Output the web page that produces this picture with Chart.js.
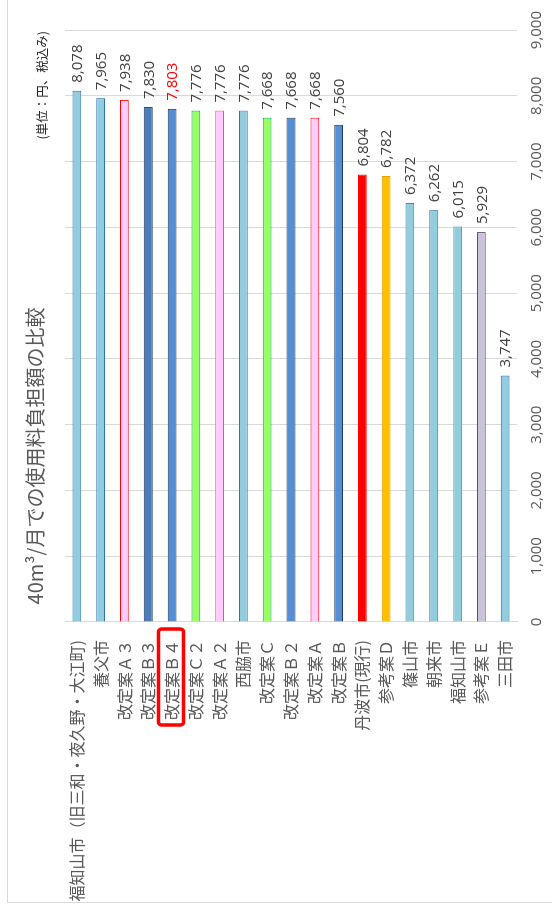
<!DOCTYPE html>
<html>
<head>
<meta charset="utf-8">
<script src="https://cdn.jsdelivr.net/npm/chart.js@4"></script>
<style>
  html, body { margin: 0; padding: 0; width: 552px; height: 912px; overflow: hidden; background: #fff; }
  /* chart is laid out landscape, then turned a quarter left */
  #wrap { position: absolute; left: 0; top: 912px; width: 912px; height: 552px;
          transform-origin: 0 0; transform: rotate(-90deg); }
</style>
</head>
<body>
<div id="wrap"><canvas id="cost" width="912" height="552"></canvas></div>
<script>
const categories = [
  "福知山市（旧三和・夜久野・大江町)", "養父市", "改定案Ａ３", "改定案Ｂ３", "改定案Ｂ４",
  "改定案Ｃ２", "改定案Ａ２", "西脇市", "改定案Ｃ", "改定案Ｂ２", "改定案Ａ", "改定案Ｂ",
  "丹波市(現行)", "参考案Ｄ", "篠山市", "朝来市", "福知山市", "参考案Ｅ", "三田市"
];
const charges = [8078, 7965, 7938, 7830, 7803, 7776, 7776, 7776, 7668, 7668, 7668, 7560,
                 6804, 6782, 6372, 6262, 6015, 5929, 3747];
const valueTicks = [0, 1000, 2000, 3000, 4000, 5000, 6000, 7000, 8000, 9000];
const highlighted = 4; // 改定案B4

const fills = [
  "#93CDDD", "#93CDDD", "#FFCCFF", "#4A7EBB", "#558ED5", "#99FF66", "#FFCCFF", "#93CDDD",
  "#99FF66", "#558ED5", "#FFCCFF", "#558ED5", "#FF0000", "#FFC000", "#93CDDD", "#93CDDD",
  "#93CDDD", "#CCC1DA", "#93CDDD"
];
const borders = [
  "#2E75B6", "#2E75B6", "#FF0000", "#1F3864", "#1F3864", "#00B050", "#FF5050", "#2E75B6",
  "#00B050", "#1F3864", "#FF0000", "#1F3864", "#FF0000", "#E69A00", "#31859C", "#2E75B6",
  "#4BACC6", "#604A7B", "#0070C0"
];

const cjk = '"Noto Sans CJK JP", "Noto Sans", sans-serif';
const num = '"Open Sans", "Liberation Sans", sans-serif';

const decor = {
  id: "decor",
  beforeDraw(chart) {
    const ctx = chart.ctx;
    ctx.save();
    ctx.fillStyle = "#fff";
    ctx.fillRect(0, 0, chart.width, chart.height);
    ctx.strokeStyle = "#D9D9D9";
    ctx.lineWidth = 1;
    ctx.strokeRect(9.5, 7.5, chart.width + 20, chart.height + 20);
    ctx.restore();
  },
  afterDraw(chart) {
    const ctx = chart.ctx;
    const area = chart.chartArea;
    ctx.save();
    // title
    ctx.fillStyle = "#595959";
    ctx.font = "20px " + cjk;
    ctx.textAlign = "center";
    ctx.textBaseline = "middle";
    ctx.fillText("40m³/月での使用料負担額の比較", chart.width / 2, 35);
    // unit note
    ctx.fillStyle = "#262626";
    ctx.font = "12.5px " + cjk;
    ctx.textAlign = "right";
    ctx.fillText("(単位：円、税込み)", area.right - 1, 42);
    // value labels
    const meta = chart.getDatasetMeta(0);
    ctx.font = "15px " + num;
    ctx.textAlign = "left";
    meta.data.forEach((bar, i) => {
      ctx.fillStyle = i === highlighted ? "#FF0000" : "#404040";
      ctx.fillText(charges[i].toLocaleString("en-US"), bar.x + 8, bar.y + 1);
    });
    // red box round the highlighted category
    const yc = chart.scales.y.getPixelForValue(highlighted);
    ctx.strokeStyle = "#FF0000";
    ctx.lineWidth = 3.5;
    ctx.beginPath();
    ctx.roundRect(area.left - 103, yc - 13.5, 96, 25, 3);
    ctx.stroke();
    ctx.restore();
  }
};

new Chart(document.getElementById("cost"), {
  type: "bar",
  data: {
    labels: categories,
    datasets: [{
      data: charges,
      backgroundColor: fills,
      borderColor: borders,
      borderWidth: 1,
      barPercentage: 0.37,
      categoryPercentage: 1
    }]
  },
  options: {
    indexAxis: "y",
    responsive: false,
    animation: false,
    layout: { padding: { top: 65, right: 29, left: 0, bottom: 0 } },
    plugins: { legend: { display: false }, tooltip: { enabled: false } },
    scales: {
      x: {
        min: 0,
        max: 9000,
        afterBuildTicks: s => { s.ticks = valueTicks.map(v => ({ value: v })); },
        afterFit: s => { s.height = 35; },
        grid: { color: "#D9D9D9", lineWidth: 1, drawTicks: false },
        border: { display: false },
        ticks: {
          padding: 11,
          color: "#595959",
          font: { family: num, size: 15 },
          callback: v => v.toLocaleString("en-US")
        }
      },
      y: {
        afterFit: s => { s.width = 290; },
        grid: { display: false, drawTicks: false },
        border: { display: true, color: "#D9D9D9" },
        ticks: {
          padding: 18,
          autoSkip: false,
          color: "#595959",
          font: { family: cjk, size: 16 }
        }
      }
    }
  },
  plugins: [decor]
});
</script>
</body>
</html>
